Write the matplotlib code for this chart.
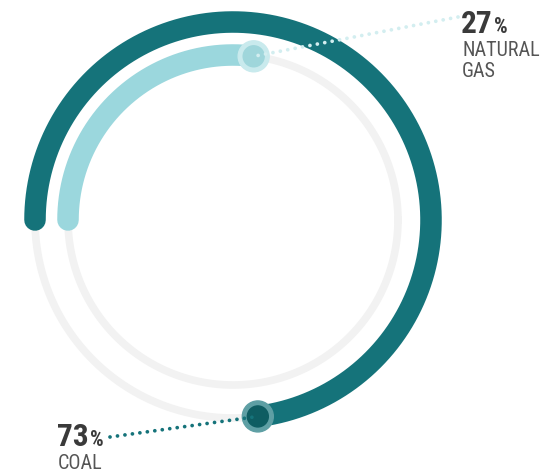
import numpy as np
import matplotlib
matplotlib.use("Agg")
import matplotlib.pyplot as plt
from matplotlib.patches import Circle

plt.rcParams['font.family'] = ['Roboto Condensed', 'Liberation Sans Narrow', 'Roboto', 'DejaVu Sans']

# data
labels = ['COAL', 'NATURAL\nGAS']
values = [73, 27]
colors = ['#15737a', '#9bd7dd']
halo_colors = ['#5e9fa4', '#c9eaed']
core_colors = ['#0e5d62', '#9fd6db']
dot_colors = ['#15737a', '#d3eef0']

cx, cy = 233, 220
radii = [198, 165]
# where each label block sits (left x, baseline y of the number)
label_pos = [(57, 446), (461, 33)]
line_end = [(110, 437), (458, 17)]

fig = plt.figure(figsize=(5.53, 4.74), dpi=100)
ax = fig.add_axes([0, 0, 1, 1])
ax.set_xlim(0, 553)
ax.set_ylim(474, 0)
ax.axis('off')

# grey tracks
t = np.linspace(0, 2 * np.pi, 400)
for r in radii:
    ax.plot(cx + r * np.cos(t), cy - r * np.sin(t), color='#f2f2f2', lw=5.5, zorder=1)

for i in range(len(values)):
    r = radii[i]
    frac = values[i] / 100
    ang = np.radians(180 - 360 * frac * np.linspace(0, 1, 300))
    ax.plot(cx + r * np.cos(ang), cy - r * np.sin(ang), color=colors[i], lw=15.5,
            solid_capstyle='round', zorder=2)

    ex = cx + r * np.cos(ang[-1])
    ey = cy - r * np.sin(ang[-1])
    ax.add_patch(Circle((ex, ey), 15.5, color=halo_colors[i], zorder=3))
    ax.add_patch(Circle((ex, ey), 10.5, color=core_colors[i], zorder=4))

    lx, ly = line_end[i]
    ax.plot([lx, ex], [ly, ey], color=dot_colors[i], lw=2.7,
            linestyle=(0, (0.01, 2.0)), dash_capstyle='round', zorder=5)

    tx, ty = label_pos[i]
    num = ax.text(tx, ty, str(values[i]), fontsize=22.5, fontweight='bold',
                  color='#3a3a3a', ha='left', va='baseline')
    fig.canvas.draw()
    bb = num.get_window_extent().transformed(ax.transData.inverted())
    ax.text(bb.x1 + 1.5, ty, '%', fontsize=15.5, fontweight='bold',
            color='#3a3a3a', ha='left', va='baseline')
    ax.text(tx + 1, ty + 8, labels[i], fontsize=14.5, fontweight='normal',
            color='#555555', ha='left', va='top', linespacing=1.15)

fig.savefig('out.png', dpi=100)
